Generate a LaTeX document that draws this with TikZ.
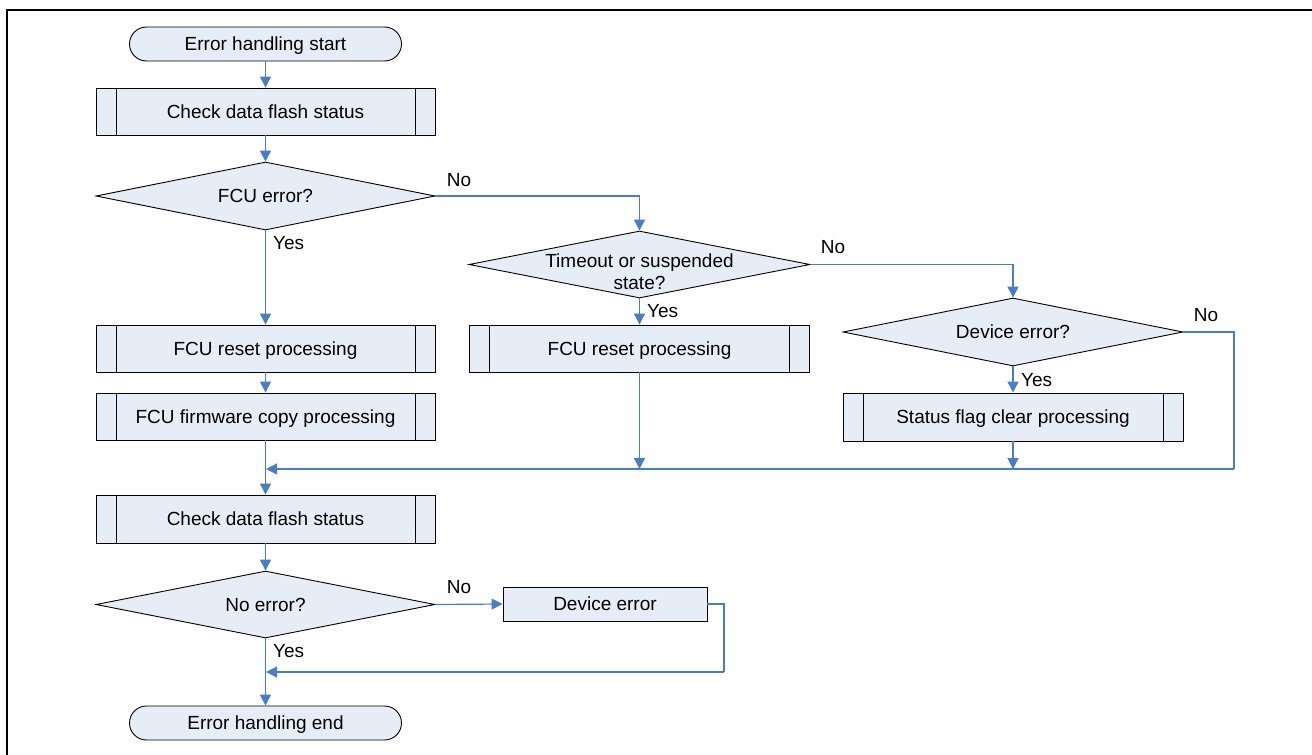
\documentclass[tikz,border=0pt]{standalone}
\usepackage{fontspec}
\setmainfont{Liberation Sans}
\usetikzlibrary{shapes.geometric,arrows.meta}
\definecolor{boxfill}{HTML}{E7EDF7}
\definecolor{flow}{HTML}{4A7EC4}
\tikzset{
  base/.style={draw=black, line width=0.9pt, fill=boxfill, inner sep=0pt,
    font=\fontsize{19pt}{22pt}\selectfont, text height=16pt, text depth=3pt},
  term/.style={base, rounded corners=17pt, minimum width=272pt, minimum height=34pt},
  plainbox/.style={base, minimum width=204pt, minimum height=34pt},
  proc/.style={base, minimum width=339pt, minimum height=47pt,
    path picture={\draw[black, line width=0.9pt]
      ([xshift=20pt]path picture bounding box.north west) -- ([xshift=20pt]path picture bounding box.south west)
      ([xshift=-20pt]path picture bounding box.north east) -- ([xshift=-20pt]path picture bounding box.south east);}},
  dec/.style={base, diamond, shape aspect=5, minimum width=339pt, minimum height=68pt},
  conn/.style={draw=flow, line width=1.2pt, -{Triangle[width=11pt,length=11pt]}},
  wire/.style={draw=flow, line width=1.2pt},
  lbl/.style={font=\fontsize{19pt}{22pt}\selectfont, inner sep=0pt}
}
\begin{document}
\begin{tikzpicture}[x=1pt,y=-1pt]
\useasboundingbox (0,0) rectangle (1312,755);
% page frame
\draw[line width=2.2pt] (7,756) -- (7,10) -- (1313,10);

% main column
\node[term] (start) at (265.5,44) {Error handling start};
\node[proc] (chk1) at (265.5,111.5) {Check data flash status};
\node[dec] (fcu) at (265.5,196) {FCU error?};
\node[proc] (rst1) at (265.5,348.5) {FCU reset processing};
\node[proc] (fw) at (265.5,416.5) {FCU firmware copy processing};
\node[proc, minimum height=48pt] (chk2) at (265.5,519) {Check data flash status};
\node[dec, minimum height=67pt] (noerr) at (265.5,604.5) {No error?};
\node[plainbox] (deverr) at (605,604) {Device error};
\node[term] (end) at (265.5,723) {Error handling end};

% middle column
\node[dec, minimum width=341pt, minimum height=67pt,
  label={[lbl, align=center, yshift=-7pt]center:Timeout or suspended\\state?}] (tmo) at (639.5,264.5) {};
\node[proc, minimum width=340pt] (rst2) at (639.5,348.5) {FCU reset processing};

% right column
\node[dec, minimum width=340pt] (dev) at (1013,332) {Device error?};
\node[proc, minimum width=340pt, minimum height=48pt] (clr) at (1013,417) {Status flag clear processing};

% junction points
\coordinate (m) at (266,469);
\coordinate (dr) at (1234,469);
\coordinate (l) at (266,672);
\coordinate (lr) at (724,672);

% main flow
\draw[conn] (start) -- (chk1);
\draw[conn] (chk1) -- (fcu);
\draw[conn] (fcu) -- (rst1);
\draw[conn] (rst1) -- (fw);
\draw[conn] (fw) -- (chk2);
\draw[conn] (chk2) -- (noerr);
\draw[conn] (noerr) -- (end);

% branches
\draw[conn] (fcu.east) -| (tmo.north);
\draw[conn] (tmo.south) -- (rst2.north);
\draw[conn] (tmo.east) -| (dev.north);
\draw[conn] (dev.south) -- (clr.north);
\draw[conn] (rst2.south) -- (rst2.south |- m);
\draw[conn] (clr.south) -- (clr.south |- m);
\draw[wire] (dev.east) -| (dr);
\draw[conn] (dr) -- (m);
\draw[conn] (noerr.east) -- (deverr.west);
\draw[wire] (deverr.east) -| (lr);
\draw[conn] (lr) -- (l);

% branch labels
\node[lbl] (n1) at (459,180) {No};
\node[lbl, anchor=west] (y1) at (273,243) {Yes};
\node[lbl] (n2) at (833,247) {No};
\node[lbl, anchor=west] (y2) at (647,311) {Yes};
\node[lbl] (n3) at (1206,315) {No};
\node[lbl, anchor=west] (y3) at (1021,380) {Yes};
\node[lbl] (n4) at (459,587) {No};
\node[lbl, anchor=west] (y4) at (273,651) {Yes};
\end{tikzpicture}
\end{document}
